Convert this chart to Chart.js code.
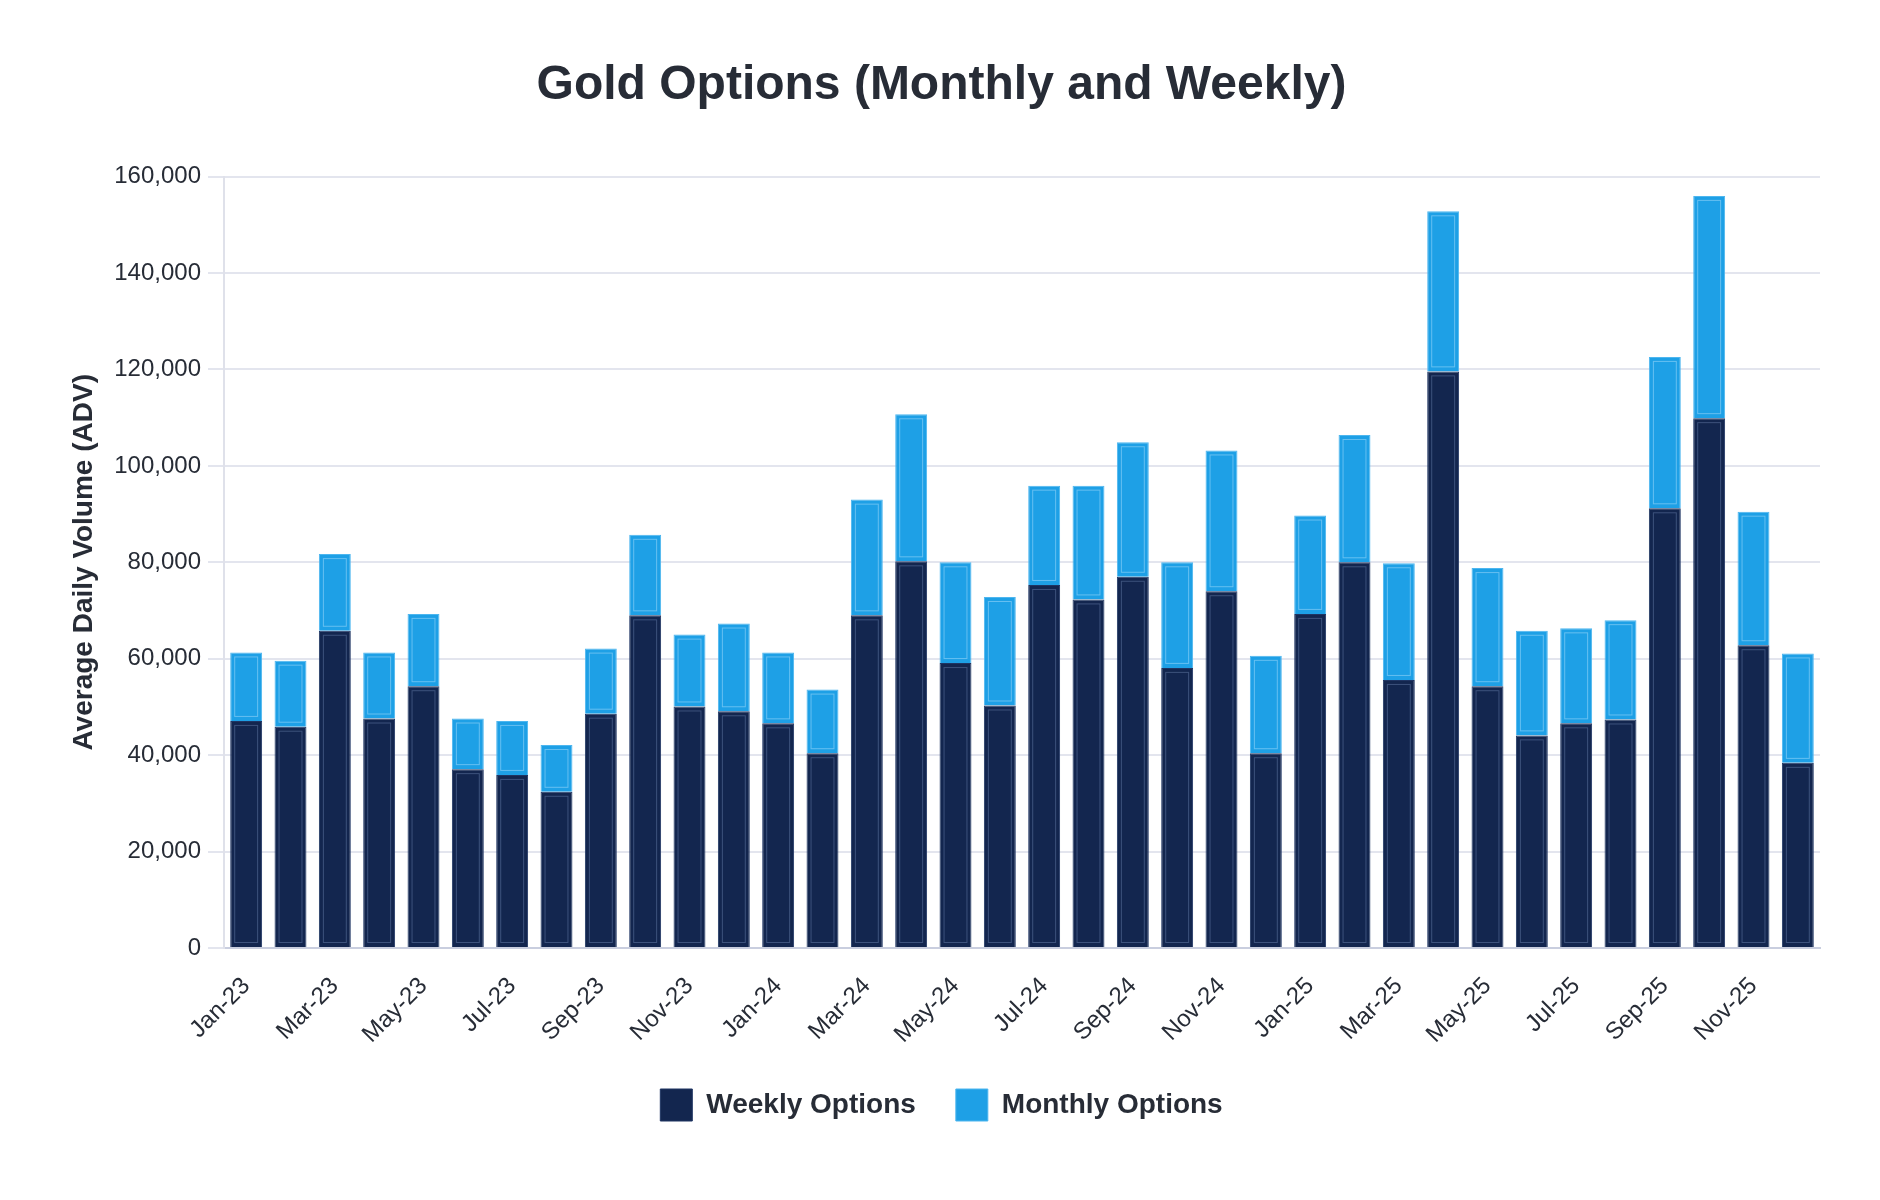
<!DOCTYPE html>
<html>
<head>
<meta charset="utf-8">
<script src="https://cdn.jsdelivr.net/npm/chart.js@4.4.1/dist/chart.umd.min.js"></script>
<style>
  html, body { margin: 0; padding: 0; background: #ffffff; }
  #wrap { width: 1880px; height: 1200px; }
</style>
</head>
<body>
<div id="wrap"><canvas id="chart" width="1880" height="1200"></canvas></div>
<script>
/* ─── Data ───────────────────────────────────────────── */
const MONTHS = [
  "Jan-23", "Feb-23", "Mar-23", "Apr-23", "May-23", "Jun-23",
  "Jul-23", "Aug-23", "Sep-23", "Oct-23", "Nov-23", "Dec-23",
  "Jan-24", "Feb-24", "Mar-24", "Apr-24", "May-24", "Jun-24",
  "Jul-24", "Aug-24", "Sep-24", "Oct-24", "Nov-24", "Dec-24",
  "Jan-25", "Feb-25", "Mar-25", "Apr-25", "May-25", "Jun-25",
  "Jul-25", "Aug-25", "Sep-25", "Oct-25", "Nov-25", "Dec-25",
];

// Weekly options ADV
const WEEKLY = [
  47100, 45900, 65800, 47600, 54300, 37100,
  35900, 32400, 48600, 69000, 50100, 49100,
  46600, 40400, 69000, 80200, 59100, 50300,
  75300, 72300, 77000, 58100, 74000, 40400,
  69300, 80000, 55600, 119600, 54300, 44100,
  46600, 47400, 91200, 109900, 62800, 38400,
];

// Monthly options ADV (stacked on top of weekly)
const MONTHLY = [
  14200, 13700, 15900, 13700, 15000, 10500,
  11200, 9700, 13500, 16700, 14900, 18200,
  14700, 13200, 24000, 30500, 20900, 22500,
  20600, 23600, 27900, 21900, 29200, 20200,
  20400, 26400, 24200, 33200, 24500, 21700,
  19700, 20600, 31400, 46100, 27700, 22700,
];

const Y_MAX = 160000;
const Y_STEP = 20000;

const TEXT = "#272c36";
const GRID = "#e3e5ee";
const FONT = "Helvetica, Arial, 'Liberation Sans', sans-serif";

/* ─── Inner bar outline (as in the original rendering) ─ */
const innerOutline = {
  id: "innerOutline",
  afterDatasetsDraw(chart) {
    const ctx = chart.ctx;
    ctx.save();
    chart.data.datasets.forEach((ds, i) => {
      const meta = chart.getDatasetMeta(i);
      ctx.strokeStyle = ds.innerLine;
      ctx.lineWidth = 1;
      meta.data.forEach((bar) => {
        const p = bar.getProps(["x", "y", "base", "width"], true);
        const inset = 4.5;
        const left = p.x - p.width / 2 + inset;
        const w = p.width - inset * 2;
        const top = Math.min(p.y, p.base) + inset;
        const h = Math.abs(p.base - p.y) - inset * 2;
        if (h > 0) ctx.strokeRect(left, top, w, h);
      });
    });
    ctx.restore();
  },
};

/* ─── Chart ──────────────────────────────────────────── */
new Chart(document.getElementById("chart").getContext("2d"), {
  type: "bar",
  data: {
    labels: MONTHS,
    datasets: [
      {
        label: "Weekly Options",
        data: WEEKLY,
        backgroundColor: "#13264f",
        borderColor: "#1f3563",
        borderWidth: 1,
        innerLine: "rgba(140, 165, 210, 0.35)",
      },
      {
        label: "Monthly Options",
        data: MONTHLY,
        backgroundColor: "#1ea0e6",
        borderColor: "#4db6ef",
        borderWidth: 1,
        innerLine: "rgba(190, 230, 255, 0.45)",
      },
    ],
  },
  options: {
    responsive: false,
    animation: false,
    devicePixelRatio: 1,
    categoryPercentage: 0.8,
    barPercentage: 0.9,
    layout: { padding: { left: 63, right: 60, top: 40, bottom: 69 } },
    scales: {
      x: {
        stacked: true,
        afterFit: (scale) => { scale.height = 101; },
        grid: { display: false },
        border: { display: true, color: "#c9cedf", width: 2 },
        ticks: {
          autoSkip: false,
          maxRotation: 45,
          minRotation: 45,
          padding: 16,
          color: TEXT,
          font: { family: FONT, size: 24 },
          callback: function (value, index) {
            return index % 2 === 0 ? MONTHS[index] : "";
          },
        },
      },
      y: {
        stacked: true,
        min: 0,
        max: Y_MAX,
        afterFit: (scale) => { scale.width = 161; },
        grid: { color: GRID, lineWidth: 2, tickLength: 16 },
        border: { display: true, color: "#dfe1ea", width: 2 },
        ticks: {
          stepSize: Y_STEP,
          padding: 7,
          color: TEXT,
          font: { family: FONT, size: 24 },
          callback: (v) => v.toLocaleString("en-US"),
        },
        title: {
          display: true,
          text: "Average Daily Volume (ADV)",
          color: TEXT,
          font: { family: FONT, size: 28, weight: "bold" },
          padding: { top: 4, bottom: 4 },
        },
      },
    },
    plugins: {
      title: {
        display: true,
        text: "Gold Options (Monthly and Weekly)",
        color: TEXT,
        font: { family: FONT, size: 48, weight: "bold" },
        padding: { top: 17, bottom: 62 },
      },
      legend: {
        position: "bottom",
        labels: {
          color: TEXT,
          boxWidth: 32,
          boxHeight: 32,
          padding: 40,
          font: { family: FONT, size: 28, weight: "bold" },
        },
      },
      tooltip: { enabled: false },
    },
  },
  plugins: [innerOutline],
});
</script>
</body>
</html>
